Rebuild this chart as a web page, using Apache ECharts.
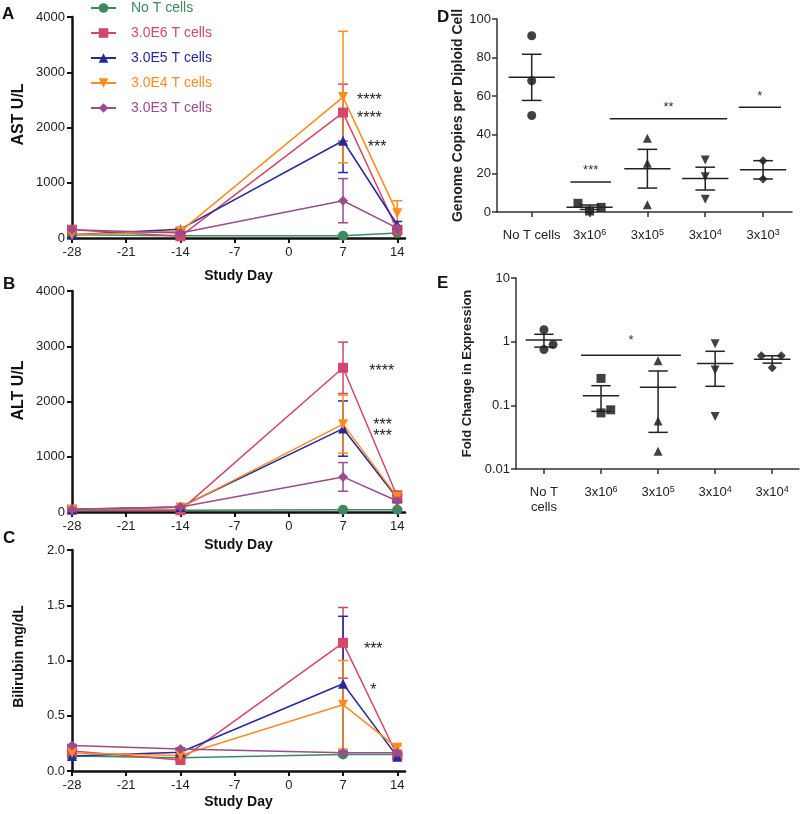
<!DOCTYPE html>
<html>
<head>
<meta charset="utf-8">
<script src="https://cdn.jsdelivr.net/npm/echarts@6/dist/echarts.min.js"></script>
<style>
  html, body { margin: 0; padding: 0; background: #fff; }
  #main { width: 800px; height: 814px; }
</style>
</head>
<body>
<div id="main"></div>
<script>
// ---- data: time course panels A-C ----
var days = [-28, -14, 7, 14];
var tickDays = [-28, -21, -14, -7, 0, 7, 14];
var groups = ['No T cells', '3.0E6 T cells', '3.0E5 T cells', '3.0E4 T cells', '3.0E3 T cells'];

// AST U/L, mean per group and day
var astMean = [
  [60, 40, 40, 90],
  [150, 30, 2270, 150],
  [60, 160, 1760, 240],
  [60, 120, 2550, 450],
  [150, 90, 675, 180]
];
var astSem = [
  [10, 10, 20, 15],
  [30, 10, 515, 50],
  [15, 20, 575, 60],
  [15, 20, 1190, 225],
  [30, 15, 400, 40]
];
// ALT U/L
var altMean = [
  [30, 30, 40, 40],
  [42, 30, 2610, 280],
  [50, 90, 1510, 250],
  [40, 80, 1590, 270],
  [45, 90, 635, 200]
];
var altSem = [
  [5, 5, 10, 10],
  [10, 10, 465, 100],
  [10, 15, 500, 50],
  [10, 15, 525, 60],
  [10, 15, 260, 30]
];
// Bilirubin mg/dL
var biliMean = [
  [0.135, 0.12, 0.15, 0.15],
  [0.18, 0.10, 1.16, 0.14],
  [0.136, 0.17, 0.79, 0.13],
  [0.163, 0.14, 0.60, 0.21],
  [0.23, 0.20, 0.165, 0.165]
];
var biliSem = [
  [0.01, 0.01, 0.01, 0.01],
  [0.02, 0.01, 0.32, 0.01],
  [0.02, 0.02, 0.61, 0.02],
  [0.05, 0.02, 0.40, 0.02],
  [0.01, 0.01, 0.01, 0.01]
];
// significance marks [day, value, text]
var astStars = [[10.4, 2552, '****'], [10.4, 2226, '****'], [11.4, 1701, '***']];
var altStars = [[12.0, 2606, '****'], [12.1, 1641, '***'], [12.1, 1430, '***']];
var biliStars = [[10.9, 1.139, '***'], [10.9, 0.762, '*']];

// ---- data: panels D and E ----
var dLabels = ['No T cells', '3x10{s|6}', '3x10{s|5}', '3x10{s|4}', '3x10{s|3}'];
var dValues = [[91.3, 68, 50], [4.5, 0.5, 2.4], [38.2, 25.3, 3.8], [27, 18.3, 6.6], [26.6, 17.1]];
var dJitter = [[0, 0, 0], [-0.2, 0, 0.2], [0, 0, 0], [0, 0, 0], [0, 0]];
var dBars = [[0.67, 1.37, 15.6, '***'], [1.35, 3.38, 48.3, '**'], [3.58, 4.31, 54.3, '*']];

var eLabels = ['No T\ncells', '3x10{s|6}', '3x10{s|5}', '3x10{s|4}', '3x10{s|4}'];
var eValues = [[1.54, 0.75, 0.9], [0.265, 0.076, 0.085], [0.5, 0.057, 0.019], [0.93, 0.36, 0.067], [0.6, 0.6, 0.39]];
var eJitter = [[0, 0, 0.16], [0, 0, 0.17], [0, 0, 0], [0, 0, 0], [-0.19, 0.16, 0]];
var eBars = [[0.65, 2.4, 0.61, '*']];

// ---- styles ----
var colors = ['#3d8a60', '#d4466b', '#26289b', '#ff8b1e', '#9a4c8c'];
var symbols = ['circle', 'rect', 'triangle', 'triangle', 'diamond'];
var rotates = [0, 0, 0, 180, 0];
var font = 'Liberation Sans, Arial, Helvetica, sans-serif';

var chart = echarts.init(document.getElementById('main'));

// error bar with caps
function errRender(params, api) {
  var x = api.value(0);
  var lo = api.coord([x, api.value(1)]);
  var hi = api.coord([x, api.value(2)]);
  var w = 5;
  var st = { stroke: api.visual('color'), lineWidth: 1.5 };
  return {
    type: 'group', children: [
      { type: 'line', shape: { x1: lo[0], y1: lo[1], x2: hi[0], y2: hi[1] }, style: st },
      { type: 'line', shape: { x1: hi[0] - w, y1: hi[1], x2: hi[0] + w, y2: hi[1] }, style: st },
      { type: 'line', shape: { x1: lo[0] - w, y1: lo[1], x2: lo[0] + w, y2: lo[1] }, style: st }
    ]
  };
}

// text marks
function starRender(list, size) {
  return function (params, api) {
    var p = api.coord([api.value(0), api.value(1)]);
    return {
      type: 'text', x: p[0], y: p[1] + 4,
      style: { text: list[params.dataIndex][2], fill: '#222', fontSize: size, fontFamily: font, align: 'center', verticalAlign: 'middle' }
    };
  };
}

// mean line + SEM
function meanRender(half) {
  return function (params, api) {
    var x = api.value(0), m = api.value(1), lo = api.value(2), hi = api.value(3);
    var a = api.coord([x - half, m]), b = api.coord([x + half, m]);
    var t = api.coord([x, hi]), u = api.coord([x, lo]);
    var c = api.coord([x + 0.17, hi])[0] - t[0];
    var st = { stroke: '#222', lineWidth: 1.5 };
    return {
      type: 'group', children: [
        { type: 'line', shape: { x1: a[0], y1: a[1], x2: b[0], y2: b[1] }, style: st },
        { type: 'line', shape: { x1: t[0], y1: t[1], x2: u[0], y2: u[1] }, style: st },
        { type: 'line', shape: { x1: t[0] - c, y1: t[1], x2: t[0] + c, y2: t[1] }, style: st },
        { type: 'line', shape: { x1: u[0] - c, y1: u[1], x2: u[0] + c, y2: u[1] }, style: st }
      ]
    };
  };
}

// significance bar + stars
function barRender(list, lift) {
  return function (params, api) {
    var a = api.coord([api.value(0), api.value(2)]);
    var b = api.coord([api.value(1), api.value(2)]);
    return {
      type: 'group', children: [
        { type: 'line', shape: { x1: a[0], y1: a[1], x2: b[0], y2: b[1] }, style: { stroke: '#222', lineWidth: 1.5 } },
        { type: 'text', x: (a[0] + b[0]) / 2, y: a[1] - lift,
          style: { text: list[params.dataIndex][3], fill: '#333', fontSize: 13, fontFamily: font, align: 'center', verticalAlign: 'middle' } }
      ]
    };
  };
}

function meanSem(arr) {
  var n = arr.length;
  var m = arr.reduce(function (s, v) { return s + v; }, 0) / n;
  var ss = arr.reduce(function (s, v) { return s + (v - m) * (v - m); }, 0);
  var sem = Math.sqrt(ss / (n - 1)) / Math.sqrt(n);
  return [m, sem];
}

function plain(v) { return String(v); }

// axes
function timeX(gi, gap) {
  return {
    type: 'value', gridIndex: gi, min: -28, max: 15, interval: 7,
    name: 'Study Day', nameLocation: 'middle', nameGap: gap,
    nameTextStyle: { fontWeight: 'bold', fontSize: 14, color: '#111', fontFamily: font },
    axisLine: { onZero: false, lineStyle: { color: '#111', width: 2.5 } },
    axisTick: { length: 5, lineStyle: { width: 2, color: '#111' }, customValues: tickDays },
    axisLabel: { customValues: tickDays, fontSize: 13, color: '#222', margin: 8, fontFamily: font, formatter: plain },
    splitLine: { show: false }
  };
}
function timeY(gi, name, max, interval, gap, size, shift, fmt) {
  return {
    type: 'value', gridIndex: gi, min: 0, max: max, interval: interval,
    name: name, nameLocation: 'middle', nameGap: gap,
    nameTextStyle: { fontWeight: 'bold', fontSize: size, color: '#111', fontFamily: font, padding: [0, 0, 0, shift] },
    axisLine: { show: true, onZero: false, lineStyle: { color: '#111', width: 2.5 } },
    axisTick: { show: true, length: 5, lineStyle: { width: 2, color: '#111' } },
    axisLabel: { fontSize: 13, color: '#222', margin: 7, fontFamily: font, formatter: fmt || plain },
    splitLine: { show: false }
  };
}

var richSup = {
  s: { fontSize: 9, verticalAlign: 'top', lineHeight: 10, fontFamily: font, color: '#222' }
};

var series = [];

function addTimePanel(gi, means, sems, stars) {
  for (var g = 0; g < groups.length; g++) {
    series.push({
      type: 'custom', xAxisIndex: gi, yAxisIndex: gi, z: 2,
      itemStyle: { color: colors[g] },
      encode: { x: 0, y: [1, 2] },
      renderItem: errRender,
      data: days.map(function (d, i) { return [d, means[g][i] - sems[g][i], means[g][i] + sems[g][i]]; })
    });
    series.push({
      type: 'line', name: groups[g], xAxisIndex: gi, yAxisIndex: gi, z: 3,
      symbol: symbols[g], symbolRotate: rotates[g], symbolSize: 10,
      itemStyle: { color: colors[g] },
      lineStyle: { width: 1.5, color: colors[g] },
      data: days.map(function (d, i) { return [d, means[g][i]]; })
    });
  }
  series.push({
    type: 'custom', xAxisIndex: gi, yAxisIndex: gi, z: 5,
    renderItem: starRender(stars, 16),
    data: stars.map(function (s) { return [s[0], s[1]]; })
  });
}
addTimePanel(0, astMean, astSem, astStars);
addTimePanel(1, altMean, altSem, altStars);
addTimePanel(2, biliMean, biliSem, biliStars);

function addDotPanel(gi, values, jitter, bars, half, lift) {
  for (var c = 0; c < values.length; c++) {
    series.push({
      type: 'scatter', xAxisIndex: gi, yAxisIndex: gi, z: 3,
      symbol: symbols[c], symbolRotate: rotates[c], symbolSize: 9,
      itemStyle: { color: '#111' },
      data: values[c].map(function (v, i) { return [c + jitter[c][i], v]; })
    });
  }
  series.push({
    type: 'custom', xAxisIndex: gi, yAxisIndex: gi, z: 4,
    encode: { x: 0, y: [1, 2, 3] },
    renderItem: meanRender(half),
    data: values.map(function (arr, c) {
      var ms = meanSem(arr);
      return [c, ms[0], ms[0] - ms[1], ms[0] + ms[1]];
    })
  });
  series.push({
    type: 'custom', xAxisIndex: gi, yAxisIndex: gi, z: 4,
    encode: { x: [0, 1], y: 2 },
    renderItem: barRender(bars, lift),
    data: bars.map(function (b) { return [b[0], b[1], b[2]]; })
  });
}
addDotPanel(3, dValues, dJitter, dBars, 0.4, 11);
addDotPanel(4, eValues, eJitter, eBars, 0.32, 15);

function catX(gi, min, max, labels) {
  var cv = labels.map(function (l, i) { return i; });
  return {
    type: 'value', gridIndex: gi, min: min, max: max,
    axisLine: { onZero: false, lineStyle: { color: '#333', width: 1.5 } },
    axisTick: { length: 5, lineStyle: { color: '#333', width: 1.5 }, customValues: cv },
    axisLabel: {
      customValues: cv, fontSize: 13, color: '#222', margin: 16, fontFamily: font, lineHeight: 15,
      formatter: function (v) { return labels[Math.round(v)]; }, rich: richSup
    },
    splitLine: { show: false }
  };
}

var option = {
  animation: false,
  backgroundColor: '#fff',
  textStyle: { fontFamily: font },
  legend: {
    orient: 'vertical', left: 90, top: 1, padding: 0,
    itemWidth: 25, itemHeight: 12, itemGap: 11,
    textStyle: { fontSize: 14, fontFamily: font, padding: [0, 0, 0, 10] },
    data: groups.map(function (g, i) { return { name: g, textStyle: { color: colors[i] } }; })
  },
  grid: [
    { left: 72, top: 17, width: 333, height: 221 },
    { left: 72, top: 291, width: 333, height: 221 },
    { left: 72, top: 550, width: 333, height: 221 },
    { left: 497, top: 19, width: 295, height: 193 },
    { left: 516, top: 278, width: 283, height: 191 }
  ],
  xAxis: [
    timeX(0, 31), timeX(1, 26), timeX(2, 24),
    catX(3, -0.6, 4.5, dLabels),
    catX(4, -0.49, 4.47, eLabels)
  ],
  yAxis: [
    timeY(0, 'AST U/L', 4000, 1000, 45, 16, 26),
    timeY(1, 'ALT U/L', 4000, 1000, 45, 16, 22),
    timeY(2, 'Bilirubin mg/dL', 2, 0.5, 46, 14, 8, function (v) { return v.toFixed(1); }),
    {
      type: 'value', gridIndex: 3, min: 0, max: 100, interval: 20,
      name: 'Genome Copies per Diploid Cell', nameLocation: 'middle', nameGap: 24,
      nameTextStyle: { fontWeight: 'bold', fontSize: 14, color: '#222', fontFamily: font },
      axisLine: { show: true, onZero: false, lineStyle: { color: '#333', width: 1.5 } },
      axisTick: { show: true, length: 5, lineStyle: { color: '#333', width: 1.5 } },
      axisLabel: { fontSize: 13, color: '#222', margin: 6, fontFamily: font },
      splitLine: { show: false }
    },
    {
      type: 'log', gridIndex: 4, min: 0.01, max: 10, logBase: 10,
      name: 'Fold Change in Expression', nameLocation: 'middle', nameGap: 42,
      nameTextStyle: { fontWeight: 'bold', fontSize: 13, color: '#222', fontFamily: font },
      axisLine: { show: true, onZero: false, lineStyle: { color: '#333', width: 1.5 } },
      axisTick: { show: true, length: 5, lineStyle: { color: '#333', width: 1.5 } },
      axisLabel: { fontSize: 13, color: '#222', margin: 6, fontFamily: font },
      minorTick: { show: false },
      splitLine: { show: false }
    }
  ],
  graphic: [
    { type: 'text', left: 2, top: 6, style: { text: 'A', font: 'bold 17px ' + font, fill: '#111' } },
    { type: 'text', left: 3, top: 276, style: { text: 'B', font: 'bold 17px ' + font, fill: '#111' } },
    { type: 'text', left: 3, top: 530, style: { text: 'C', font: 'bold 17px ' + font, fill: '#111' } },
    { type: 'text', left: 437, top: 9, style: { text: 'D', font: 'bold 17px ' + font, fill: '#111' } },
    { type: 'text', left: 437, top: 275, style: { text: 'E', font: 'bold 17px ' + font, fill: '#111' } }
  ],
  series: series
};

chart.setOption(option);
</script>
</body>
</html>
